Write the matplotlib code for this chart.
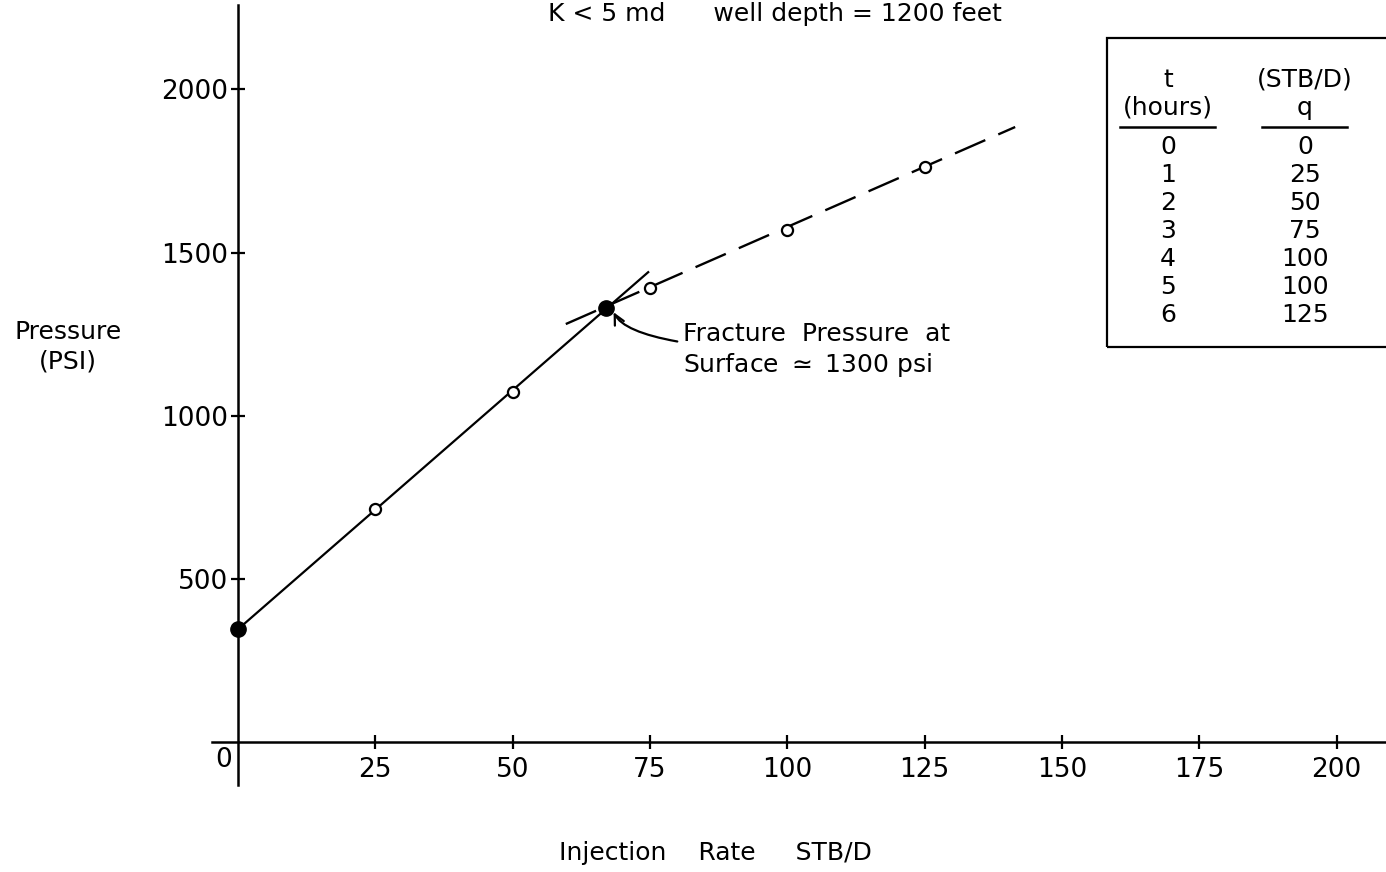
import matplotlib
matplotlib.use('Agg')
import matplotlib.pyplot as plt
import numpy as np

# ── Data ──────────────────────────────────────────────────────────────────────
rate_open     = [25, 50, 75, 100, 125]
pressure_open = [715, 1073, 1392, 1570, 1763]
rate_solid     = [0, 67]
pressure_solid = [345, 1330]

# straight-line fits drawn through the points
fit1_rate = [0, 74.7]
fit1_pres = [345, 1440]
fit2_rate = [59.7, 141.5]
fit2_pres = [1281, 1885]

xticks = [25, 50, 75, 100, 125, 150, 175, 200]
yticks = [500, 1000, 1500, 2000]

t_hours = ['0', '1', '2', '3', '4', '5', '6']
q_table = ['0', '25', '50', '75', '100', '100', '125']

W, H = 1386, 872
plt.rcParams['font.family'] = 'DejaVu Sans'
fig = plt.figure(figsize=(W / 100, H / 100), dpi=100)

def fx(px):
    return px / W

def fy(py):
    return 1 - py / H

# axes placed so spines sit where the original lines are
ax = fig.add_axes([fx(212), fy(785), fx(1386) - fx(212), fy(5) - fy(785)])
ax.set_xlim(-4.7, 209)
ax.set_ylim(-132, 2259)
ax.patch.set_alpha(0)

for s in ['top', 'right']:
    ax.spines[s].set_visible(False)
ax.spines['left'].set_position(('data', 0))
ax.spines['bottom'].set_position(('data', 0))
ax.spines['left'].set_linewidth(1.8)
ax.spines['bottom'].set_linewidth(1.8)

ax.set_xticks(xticks)
ax.set_yticks(yticks)
ax.tick_params(axis='both', direction='inout', length=10, width=1.6,
               labelsize=19, colors='black')
ax.tick_params(axis='x', pad=6)
ax.tick_params(axis='y', pad=2)
ax.text(-1.0, -55, '0', ha='right', va='center', fontsize=19,
        transform=ax.transData)

# lines
ax.plot(fit1_rate, fit1_pres, color='black', lw=1.6, zorder=2)
ax.plot(fit2_rate, fit2_pres, color='black', lw=1.7, zorder=2,
        dashes=(14, 6))

ax.plot(rate_open, pressure_open, 'o', ms=8, mfc='white', mec='black',
        mew=1.6, zorder=3, clip_on=False)
ax.plot(rate_solid, pressure_solid, 'o', ms=11, color='black', zorder=4,
        clip_on=False)

# annotation
ax.annotate('Fracture  Pressure  at\nSurface $\\simeq$ 1300 psi',
            xy=(rate_solid[1] + 1.2, pressure_solid[1] - 5),
            xytext=(81, 1200), fontsize=18, ha='left', va='center',
            linespacing=1.2,
            arrowprops=dict(arrowstyle='->', color='black', lw=1.6,
                            shrinkA=2, shrinkB=2,
                            connectionstyle='angle3,angleA=0,angleB=110'))

# axis labels
fig.text(fx(68), fy(347), 'Pressure\n(PSI)', ha='center', va='center',
         fontsize=18, linespacing=1.3)
fig.text(fx(715), fy(853), 'Injection    Rate     STB/D', ha='center',
         va='center', fontsize=18)

# title at the top edge
fig.text(fx(775), fy(14), 'K < 5 md      well depth = 1200 feet',
         ha='center', va='center', fontsize=18)

# inset table
box = plt.Rectangle((fx(1107), fy(347)), fx(1400) - fx(1107),
                    fy(38) - fy(347), transform=fig.transFigure,
                    fill=False, lw=1.6, color='black')
fig.add_artist(box)
fig.text(fx(1168), fy(80), 't', ha='center', va='center', fontsize=18)
fig.text(fx(1168), fy(107), '(hours)', ha='center', va='center', fontsize=18)
fig.text(fx(1305), fy(80), '(STB/D)', ha='center', va='center', fontsize=18)
fig.text(fx(1305), fy(108), 'q', ha='center', va='center', fontsize=18)
fig.add_artist(plt.Line2D([fx(1120), fx(1215)], [fy(127), fy(127)],
                          transform=fig.transFigure, color='black', lw=1.8))
fig.add_artist(plt.Line2D([fx(1262), fx(1347)], [fy(127), fy(127)],
                          transform=fig.transFigure, color='black', lw=1.8))
for i, (t, q) in enumerate(zip(t_hours, q_table)):
    yy = 147 + i * 28
    fig.text(fx(1168), fy(yy), t, ha='center', va='center', fontsize=18)
    fig.text(fx(1305), fy(yy), q, ha='center', va='center', fontsize=18)

fig.savefig('out.png', dpi=100)
